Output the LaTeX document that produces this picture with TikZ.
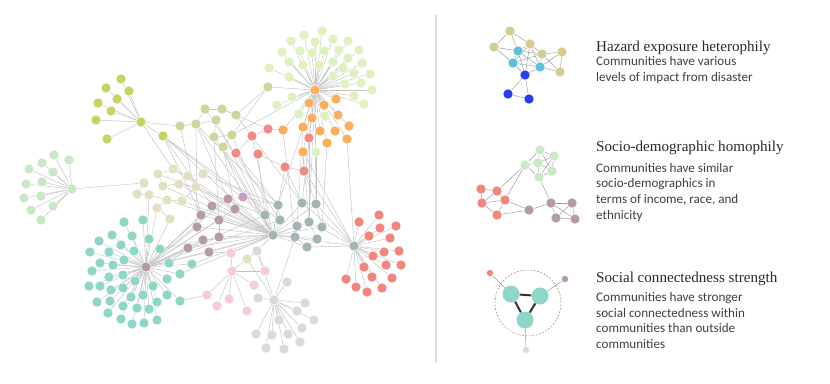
\documentclass[tikz,border=0pt]{standalone}
\usepackage{fontspec}
\newfontfamily\bodyfont{Carlito}
\newfontfamily\headfont{Liberation Serif}
\usetikzlibrary{backgrounds}
\definecolor{olive}{HTML}{CBD264}
\definecolor{mint}{HTML}{C9E9C6}
\definecolor{sand}{HTML}{E3E0C2}
\definecolor{khaki}{HTML}{D2D49E}
\definecolor{lime}{HTML}{DEF2C0}
\definecolor{orange}{HTML}{FBAF5D}
\definecolor{coral}{HTML}{F18A86}
\definecolor{mauve}{HTML}{B59BA8}
\definecolor{plum}{HTML}{C59DC6}
\definecolor{slate}{HTML}{A4B4B5}
\definecolor{salmon}{HTML}{F2857D}
\definecolor{teal}{HTML}{8DD6C8}
\definecolor{pink}{HTML}{F7CBDF}
\definecolor{ash}{HTML}{DED7DC}
\definecolor{straw}{HTML}{D5CD8F}
\definecolor{cyan}{HTML}{5CC0D8}
\definecolor{blue}{HTML}{2B3BF2}
\definecolor{line}{HTML}{DCDCDC}
\definecolor{ink}{HTML}{2A2A2A}
\tikzset{
  dot/.style={circle,inner sep=0pt,minimum size=10pt,draw=white,line width=0.4pt},
  link/.style={black!24,line width=0.45pt},
  ttl/.style={anchor=base west,inner sep=0pt,text=ink,font=\headfont\fontsize{15.1}{17}\selectfont},
  desc/.style={anchor=base west,inner sep=0pt,text=ink!90,font=\bodyfont\fontsize{13.1}{15.6}\selectfont}
}
\newcommand{\lines}[1]{\begin{tabular}[t]{@{}l@{}}#1\end{tabular}}
\begin{document}
\begin{tikzpicture}[x=1pt,y=-1pt]
\useasboundingbox (0,0) rectangle (830,383);
% network
\node[dot,fill=olive] (olh) at (141,122) {};
\foreach \x/\y [count=\i] in {121/79,106/88,129/91,117/99,98/103,111/111,96/120,107/139,163/136}
  \node[dot,fill=olive] (ol\i) at (\x,\y) {};
\node[dot,fill=mint] (lgh) at (72,189) {};
\foreach \x/\y [count=\i] in {54/155,69/160,42/163,29/169,53/172,42/182,26/184,24/198,41/196,31/210,53/206,41/220}
  \node[dot,fill=mint] (lg\i) at (\x,\y) {};
\foreach \x/\y [count=\i] in {144/183,158/174,173/169,188/176,203/174,163/186,179/184,196/187,137/194,149/195,167/200,182/201,157/208,170/219,247/259}
  \node[dot,fill=sand] (bg\i) at (\x,\y) {};
\foreach \x/\y [count=\i] in {180/126,196/124,205/109,222/109,216/120,236/115,268/87,214/137,232/135,223/147}
  \node[dot,fill=khaki] (kh\i) at (\x,\y) {};
\node[dot,fill=orange] (orh) at (315,90) {};
\foreach \x/\y [count=\i] in {322/31,304/35,333/39,348/41,291/41,315/42,282/52,300/51,312/53,324/51,339/50,359/50,289/62,303/65,319/65,333/62,348/58,362/63,269/68,343/68,354/73,370/74,289/77,333/76,345/84,361/83,372/90,354/96,364/104,292/97,277/105,299/114,325/116,316/152}
  \node[dot,fill=lime] (lm\i) at (\x,\y) {};
\foreach \x/\y [count=\i] in {336/99,309/103,324/105,312/118,338/115,283/130,303/127,320/131,335/131,349/126,327/143,347/139,303/152}
  \node[dot,fill=orange] (or\i) at (\x,\y) {};
\foreach \x/\y [count=\i] in {268/129,252/136,309/138,236/153,258/154,285/167,304/171}
  \node[dot,fill=coral] (rd\i) at (\x,\y) {};
\node[dot,fill=mauve] (mvh) at (146,267) {};
\foreach \x/\y [count=\i] in {212/206,228/199,235/209,201/215,219/220,197/227,219/237,203/240,188/248,209/252}
  \node[dot,fill=mauve] (mv\i) at (\x,\y) {};
\node[dot,fill=plum] (pu) at (243,197) {};
\node[dot,fill=slate] (gyh) at (273,235) {};
\foreach \x/\y [count=\i] in {278/205,302/203,316/204,265/215,280/220,309/222,297/226,322/227,295/237,317/239,307/247}
  \node[dot,fill=slate] (gy\i) at (\x,\y) {};
\node[dot,fill=slate] (sgh) at (354,246) {};
\foreach \x/\y [count=\i] in {379/215,359/222,396/226,380/228,369/236,390/238,399/251,384/252,373/256,401/265,386/265,364/267,372/277,392/278,346/279,356/287,367/292,382/288}
  \node[dot,fill=salmon] (sl\i) at (\x,\y) {};
\foreach \x/\y [count=\i] in {124/222,143/220,112/235,132/236,149/239,99/241,121/245,134/251,160/249,90/252,109/252,124/260,100/263,113/265,169/263,192/264,92/271,123/275,109/277,180/274,135/281,167/279,89/286,100/286,153/286,111/290,123/288,143/295,131/297,167/295,110/301,157/302,97/302,180/301,123/306,137/308,149/309,108/313,121/319,132/324,144/323,157/320}
  \node[dot,fill=teal] (tl\i) at (\x,\y) {};
\node[dot,fill=pink] (pkh) at (232,271) {};
\foreach \x/\y [count=\i] in {231/253,265/271,254/285,207/295,229/299,217/306,247/311}
  \node[dot,fill=pink] (pk\i) at (\x,\y) {};
\node[dot,fill=ash] (psh) at (274,300) {};
\foreach \x/\y [count=\i] in {257/251,287/282,258/298,305/303,297/311,314/320,279/320,302/328,256/334,272/335,288/334,300/342,266/348,284/349}
  \node[dot,fill=ash] (ps\i) at (\x,\y) {};
\begin{scope}[on background layer]
\foreach \i in {1,...,9} \draw[link] (olh) -- (ol\i);
\foreach \i in {1,...,12} \draw[link] (lgh) -- (lg\i);
\foreach \i in {1,...,34} \draw[link] (orh) -- (lm\i);
\foreach \i in {1,...,13} \draw[link] (orh) -- (or\i);
\foreach \i in {1,...,10} {\draw[link] (mvh) -- (mv\i); \draw[link] (gyh) -- (mv\i);}
\foreach \i in {1,...,11} \draw[link] (gyh) -- (gy\i);
\foreach \i in {1,...,18} \draw[link] (sgh) -- (sl\i);
\foreach \i in {1,...,42} \draw[link] (mvh) -- (tl\i);
\foreach \i in {2,...,7} \draw[link] (pkh) -- (pk\i);
\foreach \i in {1,...,14} \draw[link] (psh) -- (ps\i);
\foreach \a/\b in {olh/kh1,olh/bg3,ol9/gyh,ol9/gy4,ol9/mv1,ol9/gy5,ol9/mv4,lgh/bg1,
  kh1/kh2,kh2/kh3,kh2/kh5,kh3/kh4,kh4/kh6,kh5/kh8,kh8/kh9,kh9/kh10,kh6/kh7,kh7/orh,kh7/kh9,
  kh2/gyh,kh2/mv2,kh2/gy1,kh2/mv6,kh5/gyh,kh8/gyh,kh8/mv5,kh9/gy4,kh10/gyh,kh10/mv3,kh6/gy2,kh4/rd1,kh1/mv4,kh3/gy5,
  orh/kh9,orh/rd3,orh/gy2,orh/gy6,orh/gy1,orh/gy3,rd1/rd2,rd2/rd4,rd1/or6,rd3/or7,rd5/rd6,rd6/rd7,rd7/or13,rd4/gy1,rd5/gy4,
  rd6/gy2,rd7/gy3,rd3/gy6,rd6/gyh,rd2/gyh,or13/gy6,or11/gy8,or12/sgh,lm34/gy3,or6/gy9,or7/gy7,sgh/or13,sgh/rd7,
  bg1/bg9,bg2/bg3,bg2/bg6,bg3/bg4,bg4/bg5,bg6/bg7,bg7/bg8,bg9/bg10,bg10/bg11,bg11/bg12,bg12/bg8,bg13/bg14,bg11/bg13,
  bg7/gyh,bg8/gyh,bg12/gyh,bg6/gyh,bg4/gyh,bg5/gy1,bg3/gyh,bg11/gyh,bg13/mvh,bg14/mvh,bg10/mvh,bg2/gy4,
  mv2/pu,pu/gy1,pu/kh10,mv1/mv2,mv4/mv6,mv5/mv7,mv8/mv9,mvh/gyh,mvh/gy4,mvh/gy5,gyh/sgh,gy7/gy9,gy1/gy5,gy2/gy3,gy3/gy8,gy6/gy10,
  gy9/gy11,gy10/gy11,gy11/sgh,gy3/sgh,gy9/psh,gy6/sgh,gy2/sgh,pk1/mv10,pk1/gyh,pk1/pkh,tl34/pk4,tl16/gyh,tl15/mv9,
  tl20/gyh,tl9/mv8,ps1/bg15,bg15/psh,ps1/gyh,bg15/pkh,pk2/ps1}
  \draw[link] (\a) -- (\b);
\end{scope}
\draw[line,line width=1.5pt] (436,15) -- (436,362);
% hazard exposure heterophily
\foreach \x/\y/\c [count=\i] in {510/31/straw,494/47/straw,530/44/straw,542/54/straw,562/52/straw,560/72/straw,518/51/cyan,513/63/cyan,540/67/cyan,525/75/blue,508/94/blue,529/99/blue}
  \node[dot,fill=\c] (ha\i) at (\x,\y) {};
\begin{scope}[on background layer]
\foreach \a/\b in {1/2,1/7,1/3,2/8,2/7,3/7,3/4,3/8,3/9,3/10,7/4,7/9,7/8,7/10,8/4,8/9,8/10,4/5,4/9,4/6,5/9,5/6,9/6,9/10,10/11,10/12,11/12}
  \draw[link,black!40] (ha\a) -- (ha\b);
\end{scope}
\node[ttl] (hz) at (596,51.7) {Hazard exposure heterophily};
\node[desc] at (596,65.7) {\lines{Communities have various\\levels of impact from disaster}};
% socio-demographic homophily
\foreach \x/\y/\c [count=\i] in {540/150/mint,554/156/mint,525/165/mint,538/163/mint,552/171/mint,539/177/mint,481/189/salmon,497/191/salmon,482/203/salmon,505/200/salmon,497/215/salmon,529/210/mauve,551/203/mauve,572/203/mauve,556/218/mauve,575/219/mauve}
  \node[dot,fill=\c] (sd\i) at (\x,\y) {};
\begin{scope}[on background layer]
\foreach \a/\b in {1/2,1/3,1/4,1/5,2/4,2/5,2/6,3/4,4/5,4/6,5/6,3/6,3/8,3/10,6/13,7/8,7/9,8/10,8/9,9/10,9/11,10/11,10/12,11/12,12/13,13/14,13/15,13/16,14/15,15/16,14/16}
  \draw[link,black!40] (sd\a) -- (sd\b);
\end{scope}
\node[ttl] (sd) at (596,151.7) {Socio-demographic homophily};
\node[desc] at (596,172.3) {\lines{Communities have similar\\socio-demographics in\\terms of income, race, and\\ethnicity}};
% social connectedness strength
\node[circle,draw=black!55,dash pattern=on 1.8pt off 1.6pt,minimum size=66pt,inner sep=0pt] (ring) at (528,303) {};
\foreach \x/\y [count=\i] in {511/294,540/296,525/320}
  \node[dot,fill=teal,draw=none,minimum size=17pt] (sc\i) at (\x,\y) {};
\foreach \x/\y/\c [count=\i from 4] in {490/273/salmon,565/279/mauve,526/350/mint}
  \node[dot,fill=\c,minimum size=7pt] (sc\i) at (\x,\y) {};
\begin{scope}[on background layer]
\foreach \a/\b in {1/2,2/3,3/1} \draw[black!80,line width=2pt] (sc\a) -- (sc\b);
\foreach \a/\b in {4/1,5/2,6/3} \draw[link,black!40] (sc\a) -- (sc\b);
\end{scope}
\node[ttl] (cs) at (596,282.3) {Social connectedness strength};
\node[desc] at (596,301.7) {\lines{Communities have stronger\\social connectedness within\\communities than outside\\communities}};
\end{tikzpicture}
\end{document}
